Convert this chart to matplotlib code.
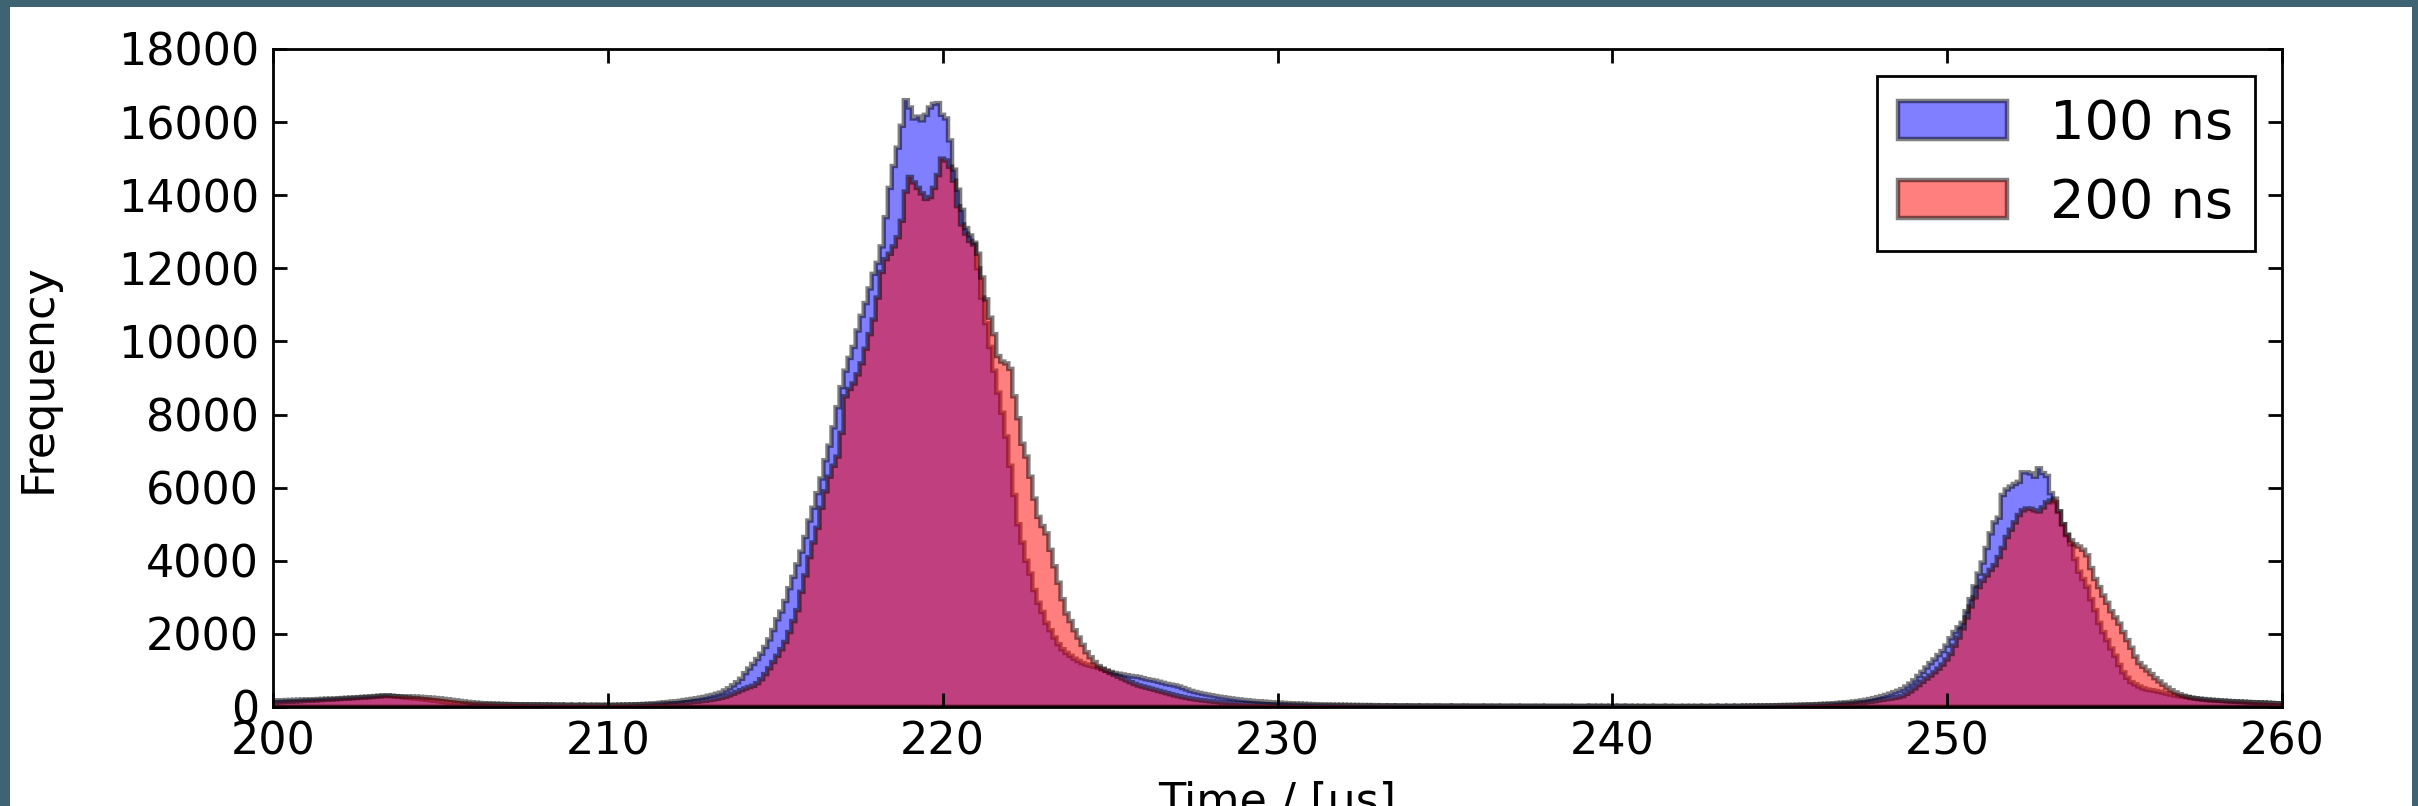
import numpy as np
import matplotlib
matplotlib.use("Agg")
import matplotlib.pyplot as plt
from matplotlib.patches import Rectangle

# ---- data -------------------------------------------------------------
t_min, t_max, n_bins = 200.0, 260.0, 500   # bins of 0.12 us
labels = ["100 ns", "200 ns"]
colors = ["blue", "red"]
xticks = [200, 210, 220, 230, 240, 250, 260]
yticks = list(range(0, 18001, 2000))

counts_100ns = [
    180,184,186,190,194,196,200,204,208,210,214,218,222,226,230,235,240,246,252,258,264,270,278,285,292,
    300,310,320,318,305,292,280,268,256,244,234,224,212,198,184,170,156,142,128,116,106,98,92,88,85,
    84,83,83,81,80,80,78,77,77,75,74,74,72,71,71,69,68,68,66,65,65,63,62,62,60,
    60,59,58,59,58,57,58,57,58,59,60,62,64,67,71,75,79,84,90,97,105,115,126,137,148,
    158,170,189,203,222,236,259,278,307,330,362,393,452,512,592,676,772,925,1052,1178,1312,1458,1642,1848,2105,
    2400,2610,2900,3250,3560,3900,4250,4650,5100,5450,5850,6250,6750,7150,7650,8200,8750,9200,9550,9850,10300,10700,11050,11450,11850,
    12150,12600,13400,14200,14800,15300,15900,16600,16400,16100,16150,16050,16200,16400,16500,16520,16200,16100,15500,14700,14150,13600,13100,12900,12700,
    12000,11200,10500,9850,9200,8600,8050,7400,6600,5800,5000,4500,4000,3650,3200,2850,2600,2300,2100,1900,1720,1580,1480,1400,1320,
    1260,1200,1160,1130,1100,1070,1030,990,960,930,910,890,870,850,835,820,790,760,740,720,690,660,630,610,590,
    560,520,480,440,410,385,360,340,320,300,280,262,248,232,218,204,192,180,170,160,152,145,138,130,124,
    118,112,106,101,96,92,88,84,80,77,74,71,69,67,65,63,61,59,57,56,55,54,53,52,51,
    50,49,49,48,47,47,46,46,45,45,44,44,43,43,43,42,42,42,41,41,41,40,40,40,40,
    40,39,39,39,39,38,38,38,38,38,37,37,37,37,37,37,36,36,36,36,36,36,36,35,35,
    35,35,34,35,34,34,35,34,34,33,34,33,34,33,33,34,33,33,32,33,33,32,33,32,32,
    32,33,32,32,33,32,33,33,34,33,34,34,35,35,36,36,37,38,39,40,42,43,45,47,50,
    53,55,57,59,62,65,68,72,76,80,85,90,96,103,110,118,127,137,148,162,178,196,218,243,270,
    300,330,365,405,445,490,560,640,730,850,960,1080,1200,1300,1420,1530,1680,1880,2050,2180,2300,2620,2950,3300,3650,
    3950,4350,4750,5050,5180,5800,5950,6030,6100,6160,6420,6420,6390,6300,6530,6400,6320,5850,5600,5350,5000,4700,4450,4050,3700,
    3500,3290,2950,2650,2300,2050,1830,1600,1400,1150,950,800,680,620,560,510,475,460,440,415,390,365,340,315,295,
    280,266,252,240,228,218,208,199,190,182,175,168,161,155,149,144,139,134,129,124,119,114,109,104,100,
]

counts_200ns = [
    130,135,140,145,150,155,160,166,172,177,183,189,195,201,207,213,220,226,232,240,246,252,259,266,274,
    280,290,300,305,302,298,295,292,290,287,283,278,272,264,255,245,234,222,208,194,180,166,152,140,128,
    118,110,104,98,94,90,86,83,80,78,76,74,72,70,68,67,66,65,64,63,62,62,61,61,60,
    60,59,58,58,57,57,56,56,56,57,57,58,59,60,62,64,66,69,72,76,80,85,90,95,100,
    105,112,120,130,140,150,162,175,190,208,228,252,280,320,365,410,460,505,545,580,650,760,900,1060,1230,
    1400,1580,1780,2050,2350,2650,3150,3600,4100,4500,4900,5450,5900,6300,6600,6850,7500,8500,8700,8850,9100,9400,9800,10200,10600,
    11200,11900,12250,12400,12600,12850,13300,14100,14500,14350,14200,14050,13900,13950,14200,14550,15000,14950,14780,14400,13700,13200,12950,12750,12650,
    12400,11750,11150,10650,10200,9600,9450,9400,9250,8500,7900,7200,6850,6300,5700,5200,4950,4750,4300,3850,3400,2950,2560,2350,2100,
    1900,1700,1500,1360,1230,1120,1050,990,930,880,830,780,730,680,630,590,560,530,500,470,440,410,380,350,320,
    295,270,248,228,210,194,180,168,156,146,137,129,122,115,109,104,99,94,90,86,82,79,76,73,70,
    68,66,64,62,60,58,56,55,53,52,50,49,48,47,46,45,44,43,42,41,40,40,39,38,38,
    37,37,36,36,35,35,35,34,34,34,33,33,33,33,32,32,32,32,31,31,31,31,30,30,30,
    30,30,30,29,29,29,29,29,28,28,28,28,28,28,27,27,27,27,27,27,27,26,26,26,26,
    26,26,26,25,26,25,25,25,25,25,24,25,24,24,24,24,24,24,24,24,24,24,24,24,24,
    24,24,24,24,24,24,25,25,25,25,26,26,27,27,28,28,29,30,31,32,33,34,35,37,39,
    41,43,45,47,49,51,54,57,60,63,67,71,75,80,85,90,96,103,110,118,126,135,145,160,180,
    200,215,230,250,270,300,360,430,510,600,690,780,860,950,1050,1160,1300,1450,1680,1900,2150,2450,2750,3000,3280,
    3450,3600,3750,3880,4100,4350,4650,4850,5050,5250,5380,5430,5420,5380,5350,5460,5600,5650,5700,5350,5000,4720,4560,4450,4390,
    4300,4150,3800,3500,3280,3050,2850,2620,2450,2280,2050,1830,1620,1380,1200,1100,1000,900,790,700,610,530,460,400,350,
    310,280,250,230,215,200,190,182,175,168,162,156,150,145,140,136,132,128,124,120,116,112,108,104,100,
]

# ---- figure -------------------------------------------------------------
W, H, DPI = 2418, 806, 200
fig = plt.figure(figsize=(W / DPI, H / DPI), dpi=DPI, facecolor="#3e6473")
fig.patches.append(Rectangle((10 / W, 0), (2412 - 10) / W, (806 - 7) / H,
                             transform=fig.transFigure, facecolor="white",
                             edgecolor="none", zorder=-10))

ax = fig.add_axes([273 / W, 1 - 707 / H, (2282 - 273) / W, (707 - 49) / H])

edges = np.linspace(t_min, t_max, n_bins + 1)
centers = 0.5 * (edges[:-1] + edges[1:])
for counts, col, lab in zip([counts_100ns, counts_200ns], colors, labels):
    ax.hist(centers, bins=edges, weights=counts, histtype="stepfilled",
            facecolor=col, edgecolor="black", linewidth=1.6, alpha=0.5, label=lab)

ax.set_xlim(t_min, t_max)
ax.set_ylim(0, 18000)
ax.set_xticks(xticks)
ax.set_yticks(yticks)
ax.tick_params(direction="in", top=True, right=True, length=5, width=1,
               labelsize=16, pad=5)
for s in ax.spines.values():
    s.set_linewidth(1.0)

ax.set_xlabel("Time / [us]", fontsize=16, labelpad=6)
ax.set_ylabel("Frequency", fontsize=16, labelpad=21)

leg = ax.legend(loc="upper right", fontsize=19.5, fancybox=False, framealpha=1,
                edgecolor="black")
leg.get_frame().set_linewidth(1.0)

fig.savefig("out.png", dpi=DPI, facecolor=fig.get_facecolor())
